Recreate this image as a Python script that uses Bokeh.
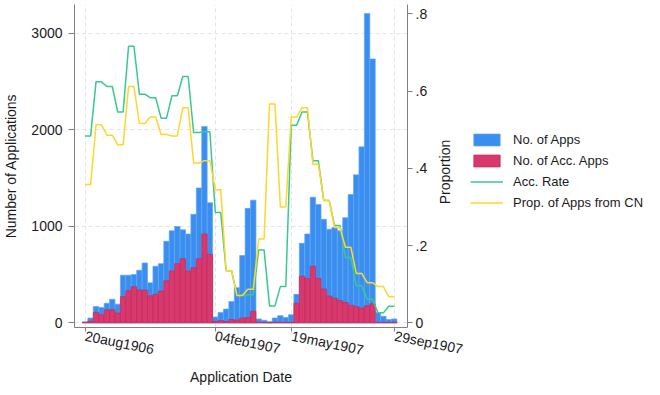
import math
from bokeh.plotting import figure
from bokeh.layouts import row
from bokeh.models import Range1d, LinearAxis, FixedTicker, Legend, LegendItem
from bokeh.embed import file_html
from bokeh.resources import INLINE

# ---- data (weekly bins) ----
week = list(range(58))
apps = [10, 50, 170, 160, 204, 245, 194, 494, 494, 500,
        545, 620, 415, 586, 613, 845, 954, 998, 964, 920,
        1124, 1397, 2034, 1244, 61, 109, 143, 221, 365, 698,
        1186, 1271, 41, 27, 14, 51, 75, 55, 85, 296,
        824, 920, 1301, 1227, 1073, 971, 988, 954, 1090, 1329,
        1533, 1823, 3203, 2733, 109, 68, 34, 41]
acc_apps = [8, 17, 109, 85, 136, 136, 102, 272, 334, 375,
            340, 340, 280, 296, 330, 436, 538, 613, 664, 538,
            572, 664, 920, 709, 15, 25, 15, 35, 30, 50,
            55, 120, 7, 7, 2, 7, 7, 7, 7, 204,
            484, 460, 586, 460, 351, 279, 256, 232, 211, 184,
            170, 153, 177, 198, 7, 7, 7, 7]
acc_rate = [0.484, 0.484, 0.624, 0.624, 0.612, 0.612, 0.546, 0.546, 0.716, 0.716,
            0.592, 0.592, 0.583, 0.583, 0.530, 0.530, 0.588, 0.588, 0.638, 0.638,
            0.493, 0.493, 0.495, 0.495, 0.286, 0.286, 0.135, 0.135, 0.071, 0.071,
            0.073, 0.073, 0.189, 0.189, 0.044, 0.044, 0.094, 0.094, 0.512, 0.512,
            0.546, 0.546, 0.420, 0.420, 0.317, 0.317, 0.252, 0.252, 0.169, 0.169,
            0.096, 0.096, 0.061, 0.061, 0.026, 0.026, 0.043, 0.043]
prop_cn = [0.358, 0.358, 0.513, 0.513, 0.486, 0.486, 0.461, 0.461, 0.612, 0.612,
           0.516, 0.516, 0.533, 0.533, 0.488, 0.488, 0.484, 0.484, 0.557, 0.557,
           0.414, 0.414, 0.420, 0.420, 0.345, 0.345, 0.135, 0.135, 0.071, 0.071,
           0.087, 0.087, 0.217, 0.217, 0.567, 0.567, 0.300, 0.300, 0.533, 0.533,
           0.557, 0.557, 0.411, 0.411, 0.317, 0.317, 0.247, 0.247, 0.196, 0.196,
           0.128, 0.128, 0.104, 0.104, 0.094, 0.094, 0.068, 0.068]

x_tick_pos = [0, 24, 38.1, 57.1]
x_tick_labels = ["20aug1906", "04feb1907", "19may1907", "29sep1907"]
left_ticks = [0, 1000, 2000, 3000]
right_ticks = [0, 0.2, 0.4, 0.6, 0.8]
right_tick_labels = ["0", ".2", ".4", ".6", ".8"]
legend_labels = ["No. of Apps", "No. of Acc. Apps", "Acc. Rate", "Prop. of Apps from CN"]

BLUE = "#3a8ef0"
RED = "#d8386c"
GREEN = "#38c98e"
YELLOW = "#ffd62a"
BLUE_EDGE = "#62a6f4"
RED_EDGE = "#c42c5d"
AXIS = "#808080"
GRID = "#e4e4e4"
FONT = "Liberation Sans"
TXT = "#1a1a1a"
PROP_TITLE_START = 0.307   # where the rotated "Proportion" title begins (right scale)

p = figure(frame_width=333, frame_height=323, output_backend="svg", toolbar_location=None,
           x_range=Range1d(-1.97, 59.45), y_range=Range1d(-47.6, 3297),
           min_border_left=69, min_border_right=0, min_border_top=4,
           min_border_bottom=0)
p.extra_y_ranges = {"prop": Range1d(-0.0119, 0.8243)}
p.outline_line_color = None
p.background_fill_color = "white"

p.vbar(x=week, top=apps, width=1.0, fill_color=BLUE, line_color=BLUE_EDGE, line_width=0.7)
p.vbar(x=week, top=acc_apps, width=1.0, fill_color=RED, line_color=RED_EDGE, line_width=0.7)
p.line(week, acc_rate, y_range_name="prop", line_color=GREEN, line_width=1.5)
p.line(week, prop_cn, y_range_name="prop", line_color=YELLOW, line_width=1.5)

# x axis
xa = p.xaxis[0]
xa.ticker = FixedTicker(ticks=x_tick_pos)
xa.major_label_overrides = dict(zip(x_tick_pos, x_tick_labels))
xa.major_label_orientation = -0.2
xa.major_label_standoff = 4
xa.major_tick_out = 4
xa.major_tick_in = 0
xa.minor_tick_line_color = None
xa.axis_label = "Application Date"
xa.axis_label_standoff = 0

# left axis
ya = p.yaxis[0]
ya.ticker = FixedTicker(ticks=left_ticks)
ya.major_label_standoff = 6
ya.major_tick_out = 6
ya.major_tick_in = 0
ya.minor_tick_line_color = None
ya.axis_label = "Number of Applications"
ya.axis_label_standoff = 9

# right axis
ra = LinearAxis(y_range_name="prop", ticker=FixedTicker(ticks=right_ticks))
ra.major_label_overrides = dict(zip(right_ticks, right_tick_labels))
ra.major_label_standoff = 3
ra.major_tick_out = 5
ra.major_tick_in = 0
ra.minor_tick_line_color = None
p.add_layout(ra, "right")

# right-axis title, written bottom-to-top
pt = LinearAxis(y_range_name="prop", ticker=FixedTicker(ticks=[PROP_TITLE_START]))
pt.major_label_overrides = {PROP_TITLE_START: "Proportion"}
pt.major_label_orientation = math.pi / 2
pt.major_tick_out = 8
pt.major_tick_in = 0
pt.major_label_standoff = 7
p.add_layout(pt, "right")

for ax in [xa, ya, ra, pt]:
    ax.axis_line_color = None if ax is pt else AXIS
    ax.major_tick_line_color = None if ax is pt else AXIS
    ax.minor_tick_line_color = None
    ax.major_label_text_font = FONT
    ax.major_label_text_font_size = "14px"
    ax.major_label_text_color = TXT
    ax.axis_label_text_font = FONT
    ax.axis_label_text_font_size = "14px"
    ax.axis_label_text_font_style = "normal"
    ax.axis_label_text_color = TXT

# grids
p.xgrid.ticker = FixedTicker(ticks=x_tick_pos)
p.ygrid.ticker = FixedTicker(ticks=left_ticks)
for g in [p.xgrid[0], p.ygrid[0]]:
    g.grid_line_color = GRID
    g.grid_line_dash = "4 3"
    g.grid_line_width = 1

# legend panel (separate figure to the right; its renderers are hidden,
# only their legend swatches are shown)
lg = figure(width=188, height=326, output_backend="svg", toolbar_location=None,
            x_range=Range1d(0, 1), y_range=Range1d(0, 1),
            x_axis_location=None, y_axis_location=None,
            min_border=0)
lg.outline_line_color = None
lg.grid.visible = False
k_apps = lg.vbar(x=week, top=apps, width=1.0, fill_color=BLUE, line_color=BLUE_EDGE,
                 line_width=0.7, visible=False)
k_acc = lg.vbar(x=week, top=acc_apps, width=1.0, fill_color=RED, line_color=RED_EDGE,
                line_width=0.7, visible=False)
k_rate = lg.line(week, acc_rate, line_color=GREEN, line_width=1.5, visible=False)
k_cn = lg.line(week, prop_cn, line_color=YELLOW, line_width=1.5, visible=False)

legend = Legend(items=[LegendItem(label=t, renderers=[r]) for t, r in
                       zip(legend_labels, [k_apps, k_acc, k_rate, k_cn])],
                location=(6, 56))
legend.border_line_alpha = 0
legend.background_fill_alpha = 0
legend.inactive_fill_alpha = 0
legend.label_text_font = FONT
legend.label_text_font_size = "13px"
legend.label_text_color = TXT
legend.glyph_width = 33
legend.glyph_height = 15
legend.label_height = 15
legend.label_standoff = 10
legend.spacing = 6
legend.padding = 0
legend.margin = 0
lg.add_layout(legend, "center")

layout = row(p, lg)
open("out.html", "w").write(file_html(layout, INLINE))
